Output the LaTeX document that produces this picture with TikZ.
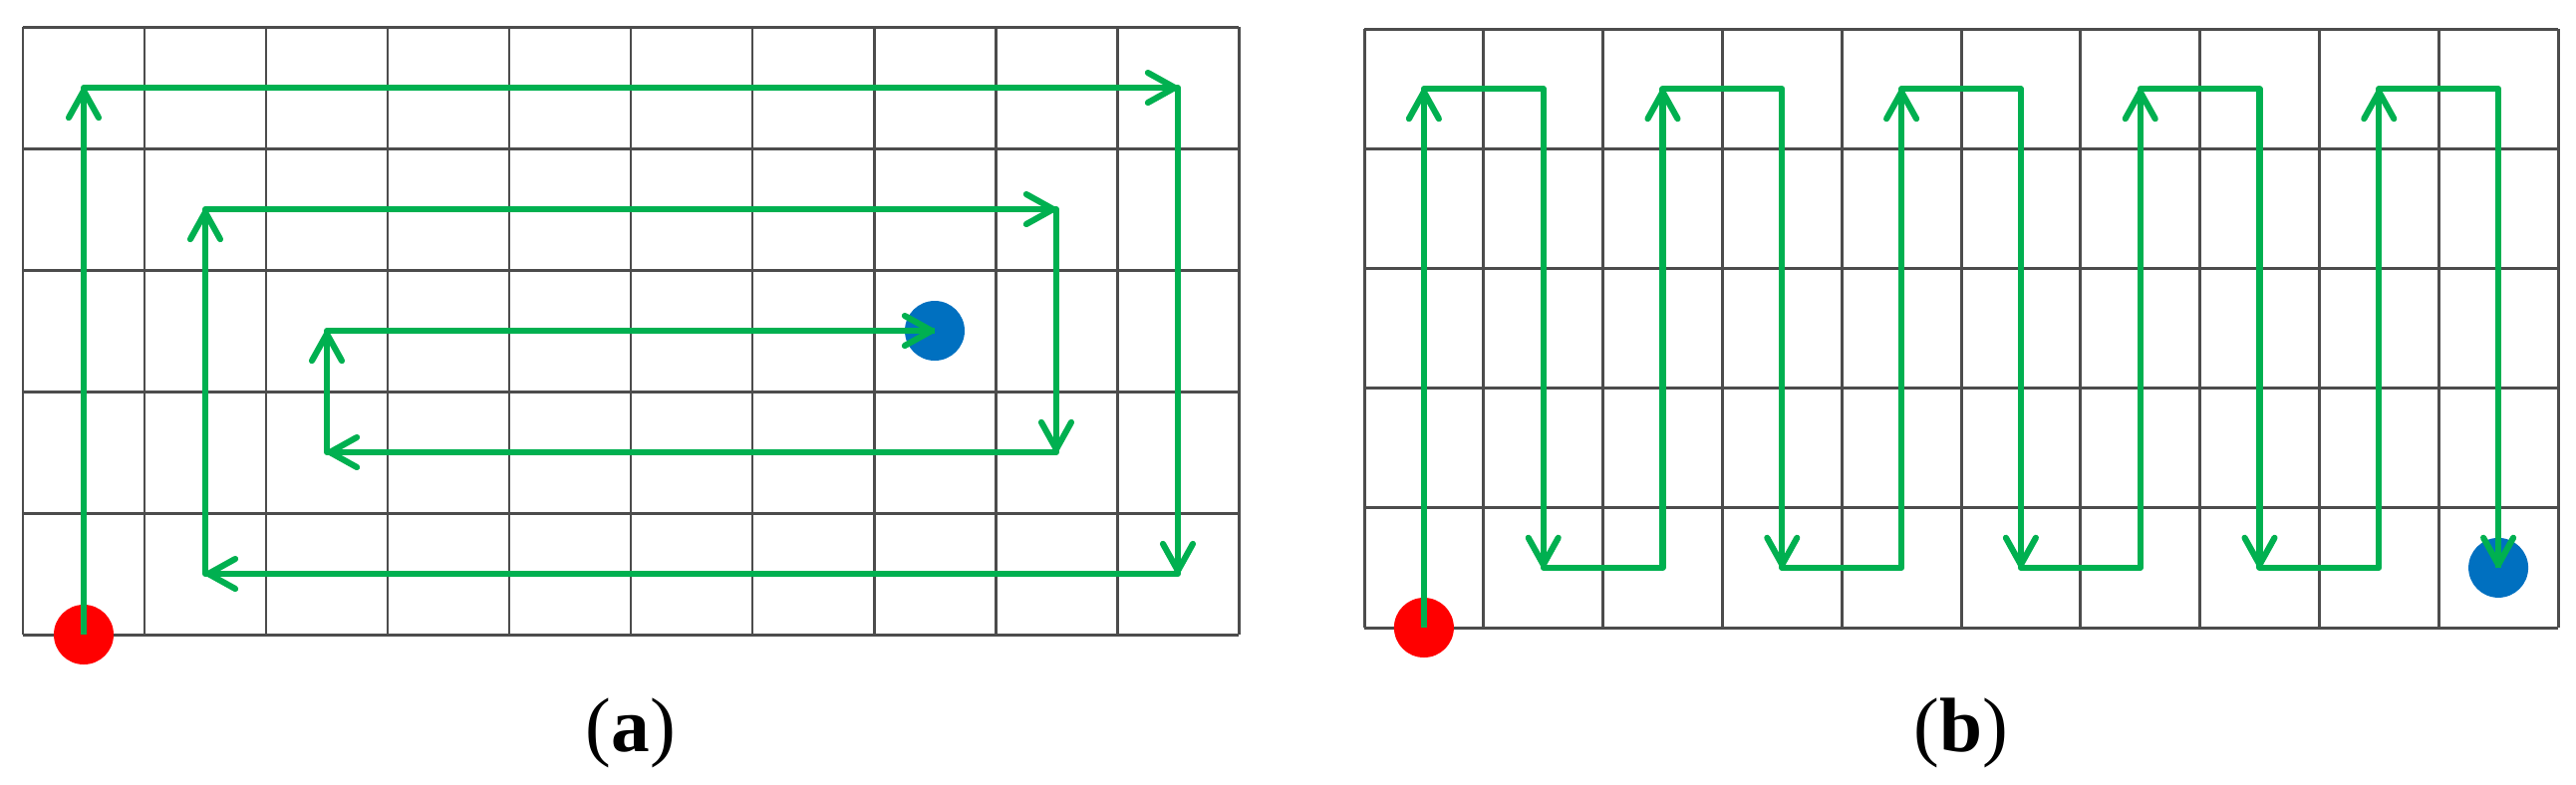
\documentclass[tikz,border=0pt]{standalone}
\usepackage{fontspec}
\setmainfont{Liberation Serif}
\usetikzlibrary{arrows.meta}
\definecolor{pathgreen}{HTML}{00B050}
\definecolor{endblue}{HTML}{0070C0}
\definecolor{startred}{HTML}{FF0000}
\tikzset{
  gridline/.style={draw=black!70, line width=0.85pt},
  route/.style={draw=pathgreen, line width=1.75pt, line join=round},
  arr/.style={route, -{Straight Barb[length=2.7mm, width=3.0mm, round]}},
  dot/.style={circle, minimum size=0.6cm, inner sep=0pt},
  startdot/.style={dot, fill=startred},
  enddot/.style={dot, fill=endblue},
  caption/.style={font=\fontsize{22}{26}\selectfont, anchor=base}
}
\begin{document}
\begin{tikzpicture}
\useasboundingbox (0,0) rectangle (25.85,-7.87);
% ---------- (a) spiral ----------
\begin{scope}[shift={(0.23cm,-6.37cm)}, x=1.22cm, y=1.22cm]
  \foreach \i in {0,...,10} \draw[gridline] (\i,0) -- (\i,5);
  \foreach \j in {0,...,5} \draw[gridline] (0,\j) -- (10,\j);
  \node[startdot] (sa) at (0.5,0) {};
  \node[enddot] (ea) at (7.5,2.5) {};
  \coordinate (a1) at (0.5,4.5);
  \coordinate (a2) at (9.5,4.5);
  \coordinate (a3) at (9.5,0.5);
  \coordinate (a4) at (1.5,0.5);
  \coordinate (a5) at (1.5,3.5);
  \coordinate (a6) at (8.5,3.5);
  \coordinate (a7) at (8.5,1.5);
  \coordinate (a8) at (2.5,1.5);
  \coordinate (a9) at (2.5,2.5);
  \draw[route] (sa.center) -- (a1) -- (a2) -- (a3) -- (a4) -- (a5) -- (a6) -- (a7) -- (a8) -- (a9) -- (ea.center);
  \draw[arr] (sa.center) -- (a1);
  \draw[arr] (a1) -- (a2);
  \draw[arr] (a2) -- (a3);
  \draw[arr] (a3) -- (a4);
  \draw[arr] (a4) -- (a5);
  \draw[arr] (a5) -- (a6);
  \draw[arr] (a6) -- (a7);
  \draw[arr] (a7) -- (a8);
  \draw[arr] (a8) -- (a9);
  \draw[arr] (a9) -- (ea.center);
\end{scope}
% ---------- (b) zigzag ----------
\begin{scope}[shift={(13.69cm,-6.30cm)}, x=1.198cm, y=1.202cm]
  \foreach \i in {0,...,10} \draw[gridline] (\i,0) -- (\i,5);
  \foreach \j in {0,...,5} \draw[gridline] (0,\j) -- (10,\j);
  \node[startdot] (sb) at (0.5,0) {};
  \node[enddot] (eb) at (9.5,0.5) {};
  \coordinate (b1) at (0.5,4.5);
  \coordinate (b2) at (1.5,4.5);
  \coordinate (b3) at (1.5,0.5);
  \coordinate (b4) at (2.5,0.5);
  \coordinate (b5) at (2.5,4.5);
  \coordinate (b6) at (3.5,4.5);
  \coordinate (b7) at (3.5,0.5);
  \coordinate (b8) at (4.5,0.5);
  \coordinate (b9) at (4.5,4.5);
  \coordinate (b10) at (5.5,4.5);
  \coordinate (b11) at (5.5,0.5);
  \coordinate (b12) at (6.5,0.5);
  \coordinate (b13) at (6.5,4.5);
  \coordinate (b14) at (7.5,4.5);
  \coordinate (b15) at (7.5,0.5);
  \coordinate (b16) at (8.5,0.5);
  \coordinate (b17) at (8.5,4.5);
  \coordinate (b18) at (9.5,4.5);
  \draw[route] (sb.center) -- (b1) -- (b2) -- (b3) -- (b4) -- (b5) -- (b6) -- (b7) -- (b8) -- (b9) -- (b10) -- (b11) -- (b12) -- (b13) -- (b14) -- (b15) -- (b16) -- (b17) -- (b18) -- (eb.center);
  \draw[arr] (sb.center) -- (b1);
  \draw[arr] (b2) -- (b3);
  \draw[arr] (b4) -- (b5);
  \draw[arr] (b6) -- (b7);
  \draw[arr] (b8) -- (b9);
  \draw[arr] (b10) -- (b11);
  \draw[arr] (b12) -- (b13);
  \draw[arr] (b14) -- (b15);
  \draw[arr] (b16) -- (b17);
  \draw[arr] (b18) -- (eb.center);
\end{scope}
% ---------- captions ----------
\node[caption] (capa) at (6.33,-7.54) {(\textbf{a})};
\node[caption] (capb) at (19.68,-7.54) {(\textbf{b})};
\end{tikzpicture}
\end{document}
